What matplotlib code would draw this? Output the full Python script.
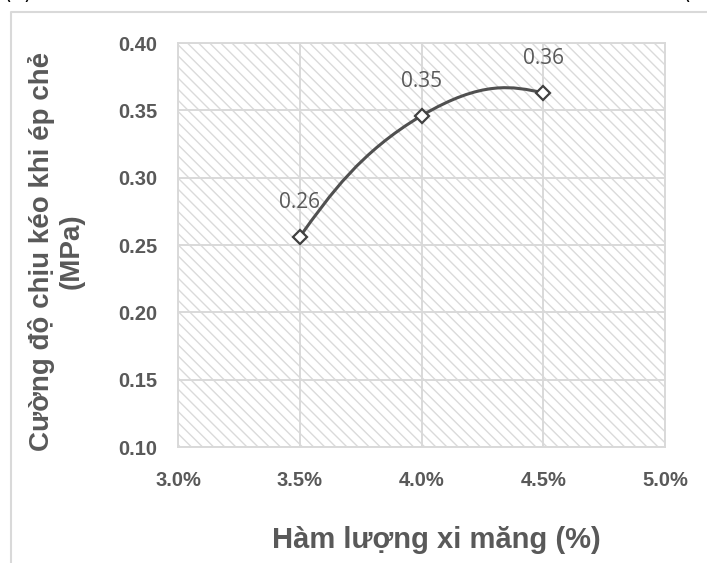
import matplotlib
matplotlib.use("Agg")
import matplotlib.pyplot as plt
from matplotlib.path import Path
from matplotlib.patches import PathPatch, Rectangle
from matplotlib.lines import Line2D
from matplotlib.ticker import FuncFormatter

# data
cement = [3.5, 4.0, 4.5]          # Hàm lượng xi măng (%)
strength = [0.256, 0.346, 0.363]  # Cường độ chịu kéo khi ép chẻ (MPa)
point_labels = ["0.26", "0.35", "0.36"]
x_ticks = [3.0, 3.5, 4.0, 4.5, 5.0]
y_ticks = [0.10, 0.15, 0.20, 0.25, 0.30, 0.35, 0.40]

grey = "#595959"
grid_c = "#d9d9d9"
sans = ["Liberation Sans", "DejaVu Sans"]

def smooth_path(xs, ys, a=0.25, b=0.5):
    # smoothed line like excel: bezier segments, inner handles along the
    # neighbour chord, end handles pulled halfway to the next handle
    n = len(xs)
    pts = list(zip(xs, ys))
    handles = []
    for i in range(n - 1):
        p, q = pts[i], pts[i + 1]
        c1 = c2 = None
        if i > 0:
            r = pts[i - 1]
            c1 = (p[0] + a * (q[0] - r[0]), p[1] + a * (q[1] - r[1]))
        if i + 2 < n:
            s = pts[i + 2]
            c2 = (q[0] - a * (s[0] - p[0]), q[1] - a * (s[1] - p[1]))
        if c1 is None and c2 is not None:
            c1 = (p[0] + b * (c2[0] - p[0]), p[1] + b * (c2[1] - p[1]))
        if c2 is None and c1 is not None:
            c2 = (q[0] + b * (c1[0] - q[0]), q[1] + b * (c1[1] - q[1]))
        if c1 is None:
            c1, c2 = p, q
        handles.append((c1, c2, q))
    verts = [pts[0]]
    codes = [Path.MOVETO]
    for c1, c2, q in handles:
        verts += [c1, c2, q]
        codes += [Path.CURVE4] * 3
    return Path(verts, codes)

plt.rcParams["hatch.linewidth"] = 1.0
fig = plt.figure(figsize=(7.07, 5.63), dpi=100)
ax = fig.add_axes([0.2518, 0.206, 0.6888, 0.7176])

# hatched plot area
bg = Rectangle((0, 0), 1, 1, transform=ax.transAxes, facecolor="white",
               edgecolor="#dadada", linewidth=0, hatch="\\\\\\", zorder=0)
ax.add_patch(bg)
ax.patch.set_visible(False)

ax.set_xlim(3.0, 5.0)
ax.set_ylim(0.10, 0.40)
ax.set_xticks(x_ticks)
ax.set_yticks(y_ticks)
ax.grid(True, color=grid_c, linewidth=1.4, zorder=1)
ax.set_axisbelow(True)
for s in ax.spines.values():
    s.set_color(grid_c)
    s.set_linewidth(1.4)
ax.tick_params(length=0, colors=grey)
ax.tick_params(axis="x", pad=17)
ax.tick_params(axis="y", pad=15)
ax.xaxis.set_major_formatter(FuncFormatter(lambda v, p: "%.1f%%" % v))
ax.yaxis.set_major_formatter(FuncFormatter(lambda v, p: "%.2f" % v))
for t in ax.get_xticklabels() + ax.get_yticklabels():
    t.set_fontfamily(sans)
    t.set_fontweight("bold")
    t.set_fontsize(14.5)

ax.add_patch(PathPatch(smooth_path(cement, strength), facecolor="none",
                       edgecolor="#505050", linewidth=2.2, zorder=3))
ax.plot(cement, strength, linestyle="none", marker="D", markersize=7.5,
        markerfacecolor="white", markeredgecolor="#404040",
        markeredgewidth=1.6, zorder=4)
for x, y, lab in zip(cement, strength, point_labels):
    ax.annotate(lab, (x, y), xytext=(0, 25), textcoords="offset points",
                ha="center", va="center", color=grey, fontsize=15,
                family=["Open Sans", "DejaVu Sans"])

ax.set_xlabel("Hàm lượng xi măng (%)", fontsize=21, fontweight="bold",
              color=grey, family=sans, va="center")
ax.xaxis.set_label_coords(0.531, -0.23)
ax.set_ylabel("Cường độ chịu kéo khi ép chẻ\n(MPa)", fontsize=20,
              fontweight="bold", color=grey, family=sans, va="center",
              multialignment="center")
ax.yaxis.set_label_coords(-0.2505, 0.484)

# outer chart border, cut off by the page edge
fig.add_artist(Line2D([0.0155, 0.0155, 1.0], [0.0, 0.9787, 0.9787],
                      transform=fig.transFigure, color="#d9d9d9", linewidth=1.5))
fig.text(0.005, 1.012, "(a)", fontsize=15, color="black", va="center")
fig.text(0.965, 1.012, "(", fontsize=15, color="black", va="center")

fig.savefig("out.png", dpi=100)
